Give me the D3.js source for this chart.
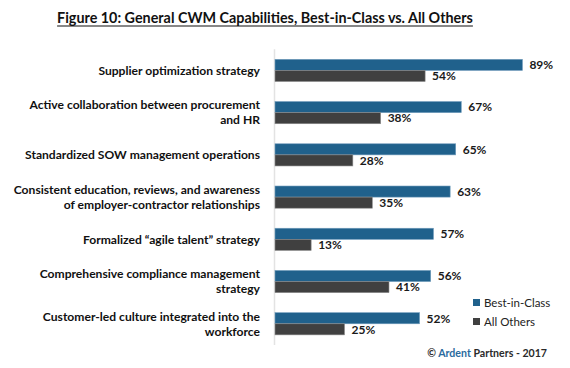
<!DOCTYPE html>
<html>
<head>
<meta charset="utf-8">
<script src="https://cdn.jsdelivr.net/npm/d3@7"></script>
<style>
  html, body { margin: 0; padding: 0; background: #fff; }
  svg { display: block; }
  text { font-family: Lato, "Open Sans", sans-serif; }
</style>
</head>
<body>
<svg id="chart" width="570" height="368"></svg>
<script>
const title = "Figure 10: General CWM Capabilities, Best-in-Class vs. All Others";
const categories = [
  ["Supplier optimization strategy"],
  ["Active collaboration between procurement", "and HR"],
  ["Standardized SOW management operations"],
  ["Consistent education, reviews, and awareness", "of employer-contractor relationships"],
  ["Formalized \u201Cagile talent\u201D strategy"],
  ["Comprehensive compliance management", "strategy"],
  ["Customer-led culture integrated into the", "workforce"]
];
const seriesNames = ["Best-in-Class", "All Others"];
const bestInClass = [89, 67, 65, 63, 57, 56, 52];
const allOthers = [54, 38, 28, 35, 13, 41, 25];
const credit = ["\u00A9 ", "Ardent", " Partners - 2017"];

const colors = ["#20618c", "#404040"];
const svg = d3.select("#chart");

const catKeys = categories.map((c, i) => i);
const y = d3.scaleBand().domain(catKeys).range([49.2, 345]).paddingInner(0.475).paddingOuter(0.24);
const ySub = d3.scaleBand().domain(seriesNames).range([0, y.bandwidth()]);
const x = d3.scaleLinear().domain([0, 100]).range([275, 553]);

// title
const t = svg.append("text")
  .attr("x", 265).attr("y", 23)
  .attr("text-anchor", "middle")
  .attr("font-size", 14.35).attr("font-weight", 700)
  .attr("fill", "#111")
  .text(title);
const tb = t.node().getBBox();
svg.append("line")
  .attr("x1", tb.x).attr("x2", tb.x + tb.width)
  .attr("y1", 26).attr("y2", 26)
  .attr("stroke", "#111").attr("stroke-width", 1.2);

// axis line
svg.append("line")
  .attr("x1", 274.5).attr("x2", 274.5)
  .attr("y1", y.range()[0]).attr("y2", y.range()[1])
  .attr("stroke", "#e3e3e3").attr("stroke-width", 1.5);

const data = catKeys.map(i => ({ i, values: [bestInClass[i], allOthers[i]] }));

const g = svg.append("g").selectAll("g").data(data).join("g")
  .attr("transform", d => `translate(0,${y(d.i)})`);

g.selectAll("rect").data(d => d.values.map((v, k) => ({ v, k })))
  .join("rect")
  .attr("x", x(0))
  .attr("y", d => ySub(seriesNames[d.k]))
  .attr("width", d => x(d.v) - x(0))
  .attr("height", ySub.bandwidth())
  .attr("fill", d => colors[d.k])
  .attr("stroke", d => d.k === 0 ? "#6f9bbb" : "#8a8a8a")
  .attr("stroke-width", 0.6);

g.selectAll("text.val").data(d => d.values.map((v, k) => ({ v, k })))
  .join("text")
  .attr("class", "val")
  .attr("x", d => x(d.v) + 7)
  .attr("y", d => ySub(seriesNames[d.k]) + ySub.bandwidth() / 2)
  .attr("dy", "0.36em")
  .attr("font-size", 12).attr("font-weight", 700)
  .attr("fill", "#1a1a1a")
  .text(d => d.v + "%");

// category labels
const lineH = 15;
svg.append("g").selectAll("text").data(data).join("text")
  .attr("text-anchor", "end")
  .attr("font-size", 12.1).attr("font-weight", 700)
  .attr("fill", "#111")
  .each(function (d) {
    const lines = categories[d.i];
    const cy = y(d.i) + y.bandwidth() / 2;
    d3.select(this).selectAll("tspan").data(lines).join("tspan")
      .attr("x", 260)
      .attr("y", (l, j) => cy + (j - (lines.length - 1) / 2) * lineH)
      .attr("dy", "0.35em")
      .text(l => l);
  });

// legend
const lg = svg.append("g").selectAll("g").data(seriesNames).join("g")
  .attr("transform", (d, k) => `translate(473,${299 + k * 19})`);
lg.append("rect").attr("width", 7).attr("height", 7).attr("fill", (d, k) => colors[k]);
lg.append("text").attr("x", 11).attr("y", 3.5).attr("dy", "0.35em")
  .attr("font-size", 11.5).attr("fill", "#222").text(d => d);

// credit
svg.append("text")
  .attr("x", 547).attr("y", 353).attr("dy", "0.35em")
  .attr("text-anchor", "end")
  .attr("font-size", 10.6).attr("font-weight", 700)
  .selectAll("tspan").data(credit).join("tspan")
  .attr("fill", (d, k) => k === 1 ? "#2a6a9e" : "#2a2a2a")
  .text(d => d);
</script>
</body>
</html>
